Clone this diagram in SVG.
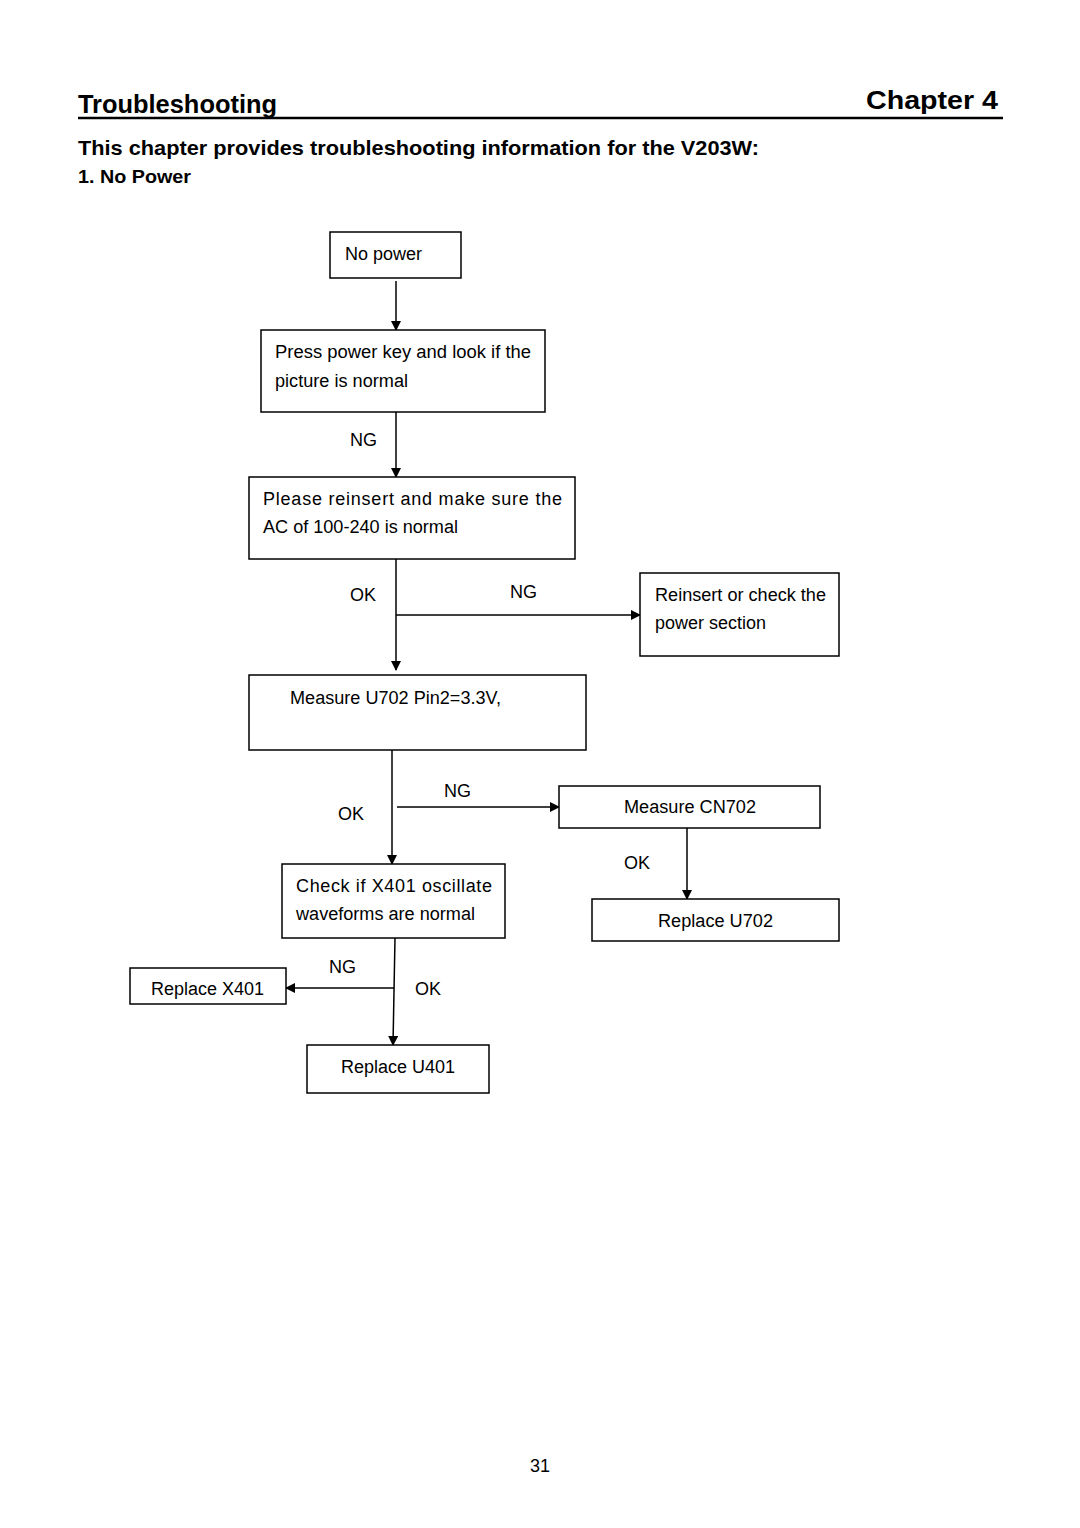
<svg xmlns="http://www.w3.org/2000/svg" width="1080" height="1528" viewBox="0 0 1080 1528">
<defs>
<style>
.t{font-family:"Liberation Sans",Arial,sans-serif;font-size:18px;fill:#000}
.b{font-family:"Liberation Sans",Arial,sans-serif;font-weight:bold;fill:#000}
.box{fill:#fff;stroke:#000;stroke-width:1.5}
.c{stroke:#000;stroke-width:1.5;fill:none}
</style>
<marker id="ah" markerWidth="10" markerHeight="10" refX="9" refY="5" orient="auto" markerUnits="userSpaceOnUse">
<path d="M0,0 L10,5 L0,10 Z" fill="#000"/>
</marker>
</defs>
<rect width="1080" height="1528" fill="#fff"/>
<g id="header">
<text class="b" x="78" y="113" font-size="25" textLength="199" lengthAdjust="spacingAndGlyphs">Troubleshooting</text>
<text class="b" x="866" y="109" font-size="26" textLength="132" lengthAdjust="spacingAndGlyphs">Chapter 4</text>
<line x1="78" y1="118" x2="1003" y2="118" stroke="#000" stroke-width="2.5"/>
<text class="b" x="78" y="155" font-size="20.5" textLength="681" lengthAdjust="spacingAndGlyphs">This chapter provides troubleshooting information for the V203W:</text>
<text class="b" x="78" y="183" font-size="18.5" textLength="113" lengthAdjust="spacingAndGlyphs">1. No Power</text>
</g>
<g id="connectors">
<line class="c" x1="396" y1="281" x2="396" y2="330" marker-end="url(#ah)"/>
<line class="c" x1="396" y1="412" x2="396" y2="477" marker-end="url(#ah)"/>
<line class="c" x1="396" y1="559" x2="396" y2="670" marker-end="url(#ah)"/>
<line class="c" x1="396" y1="615" x2="640" y2="615" marker-end="url(#ah)"/>
<line class="c" x1="392" y1="750" x2="392" y2="864" marker-end="url(#ah)"/>
<line class="c" x1="397" y1="807" x2="559" y2="807" marker-end="url(#ah)"/>
<line class="c" x1="687" y1="828" x2="687" y2="899" marker-end="url(#ah)"/>
<line class="c" x1="395" y1="938" x2="393" y2="1045" marker-end="url(#ah)"/>
<line class="c" x1="394" y1="988" x2="286" y2="988" marker-end="url(#ah)"/>
<text class="t" x="350" y="446">NG</text>
<text class="t" x="350" y="601">OK</text>
<text class="t" x="510" y="598">NG</text>
<text class="t" x="338" y="820">OK</text>
<text class="t" x="444" y="797">NG</text>
<text class="t" x="624" y="869">OK</text>
<text class="t" x="329" y="973">NG</text>
<text class="t" x="415" y="995">OK</text>
</g>
<g id="n1">
<rect class="box" x="330" y="232" width="131" height="46"/>
<text class="t" x="345" y="260" textLength="77" lengthAdjust="spacingAndGlyphs">No power</text>
</g>
<g id="n2">
<rect class="box" x="261" y="330" width="284" height="82"/>
<text class="t" x="275" y="358" textLength="256" lengthAdjust="spacingAndGlyphs">Press power key and look if the</text>
<text class="t" x="275" y="387" textLength="133" lengthAdjust="spacingAndGlyphs">picture is normal</text>
</g>
<g id="n3">
<rect class="box" x="249" y="477" width="326" height="82"/>
<text class="t" x="263" y="505" textLength="299" lengthAdjust="spacing">Please reinsert and make sure the</text>
<text class="t" x="263" y="533" textLength="195" lengthAdjust="spacingAndGlyphs">AC of 100-240 is normal</text>
</g>
<g id="n4">
<rect class="box" x="640" y="573" width="199" height="83"/>
<text class="t" x="655" y="601" textLength="171" lengthAdjust="spacingAndGlyphs">Reinsert or check the</text>
<text class="t" x="655" y="629" textLength="111" lengthAdjust="spacingAndGlyphs">power section</text>
</g>
<g id="n5">
<rect class="box" x="249" y="675" width="337" height="75"/>
<text class="t" x="290" y="704" textLength="211" lengthAdjust="spacingAndGlyphs">Measure U702 Pin2=3.3V,</text>
</g>
<g id="n6">
<rect class="box" x="559" y="786" width="261" height="42"/>
<text class="t" x="624" y="813" textLength="132" lengthAdjust="spacingAndGlyphs">Measure CN702</text>
</g>
<g id="n7">
<rect class="box" x="282" y="864" width="223" height="74"/>
<text class="t" x="296" y="892" textLength="196" lengthAdjust="spacing">Check if X401 oscillate</text>
<text class="t" x="296" y="920" textLength="179" lengthAdjust="spacingAndGlyphs">waveforms are normal</text>
</g>
<g id="n8">
<rect class="box" x="592" y="899" width="247" height="42"/>
<text class="t" x="658" y="927" textLength="115" lengthAdjust="spacingAndGlyphs">Replace U702</text>
</g>
<g id="n9">
<rect class="box" x="130" y="968" width="156" height="36"/>
<text class="t" x="151" y="995" textLength="113" lengthAdjust="spacingAndGlyphs">Replace X401</text>
</g>
<g id="n10">
<rect class="box" x="307" y="1045" width="182" height="48"/>
<text class="t" x="341" y="1073" textLength="114" lengthAdjust="spacingAndGlyphs">Replace U401</text>
</g>
<text class="t" x="540" y="1472" font-size="16" text-anchor="middle">31</text>
</svg>
